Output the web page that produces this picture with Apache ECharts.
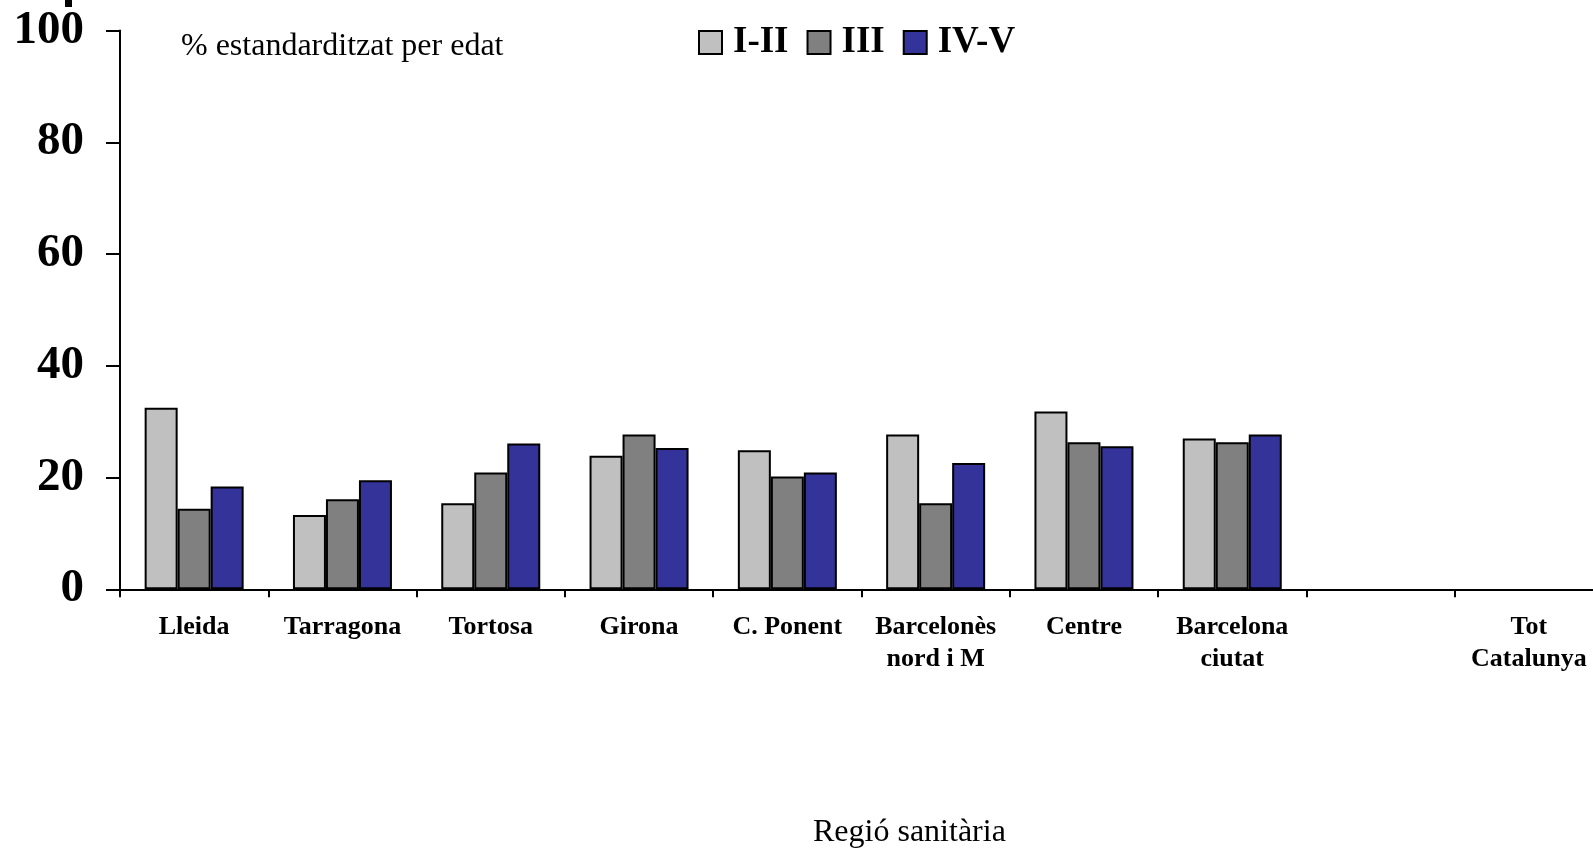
<!DOCTYPE html>
<html>
<head>
<meta charset="utf-8">
<style>
  html, body { margin: 0; padding: 0; background: #fff; }
  #chart { width: 1593px; height: 848px; }
</style>
<script src="https://cdn.jsdelivr.net/npm/echarts@6/dist/echarts.min.js"></script>
</head>
<body>
<div id="chart"></div>
<script>
// Health regions of Catalonia (the last two slots carry no bars)
const regions = ['Lleida', 'Tarragona', 'Tortosa', 'Girona', 'C. Ponent',
  'Barcelonès\nnord i M', 'Centre', 'Barcelona\nciutat', '', 'Tot\nCatalunya'];

// Age-standardised percentage by social class group
const classI_II = [32.5, 13.3, 15.4, 23.9, 24.9, 27.7, 31.8, 27.0, null, null];
const classIII  = [14.4, 16.1, 20.9, 27.7, 20.2, 15.4, 26.3, 26.3, null, null];
const classIV_V = [18.4, 19.5, 26.1, 25.3, 20.9, 22.6, 25.6, 27.7, null, null];

const seriesNames = ['I-II', 'III', 'IV-V'];
const yTicks = [0, 20, 40, 60, 80, 100];

const serif = "'Liberation Serif', 'Times New Roman', serif";
const colors = ['#C0C0C0', '#808080', '#333399'];

const chart = echarts.init(document.getElementById('chart'), null, { renderer: 'canvas' });

function barSeries(name, data, color) {
  return {
    name: name,
    type: 'bar',
    data: data,
    barWidth: 33,
    barGap: '0%',
    itemStyle: { color: color, borderColor: '#000', borderWidth: 2 },
    emphasis: { disabled: true }
  };
}

chart.setOption({
  animation: false,
  backgroundColor: '#fff',
  textStyle: { fontFamily: serif },
  // the plot runs slightly past the right edge of the canvas
  grid: {
    left: 120, width: 1483, top: 30.5, bottom: 258.7,
    containLabel: false, outerBoundsMode: 'none'
  },
  legend: {
    data: seriesNames,
    left: 693,
    top: 19,
    itemWidth: 23,
    itemHeight: 23,
    itemGap: 18,
    icon: 'rect',
    textStyle: {
      fontFamily: serif, fontWeight: 'bold', fontSize: 37, color: '#000',
      padding: [0, 0, 0, 6]
    },
    selectedMode: false
  },
  xAxis: {
    type: 'category',
    data: regions,
    boundaryGap: true,
    axisLine: { show: true, lineStyle: { color: '#000', width: 2 } },
    axisTick: { show: true, interval: 0, length: 8, alignWithLabel: false, lineStyle: { color: '#000', width: 2 } },
    axisLabel: {
      interval: 0,
      margin: 22,
      fontFamily: serif,
      fontWeight: 'bold',
      fontSize: 26,
      lineHeight: 32,
      color: '#000'
    },
    splitLine: { show: false }
  },
  yAxis: {
    type: 'value',
    min: yTicks[0],
    max: yTicks[yTicks.length - 1],
    interval: yTicks[1] - yTicks[0],
    axisLine: { show: true, lineStyle: { color: '#000', width: 2 } },
    axisTick: { show: true, inside: false, length: 14, lineStyle: { color: '#000', width: 2 } },
    axisLabel: {
      margin: 36,
      fontFamily: serif,
      fontWeight: 'bold',
      fontSize: 47,
      color: '#000'
    },
    splitLine: { show: false }
  },
  graphic: [
    {
      type: 'text',
      left: 181,
      top: 31,
      style: { text: '% estandarditzat per edat', font: '32px ' + serif, fill: '#000' }
    },
    {
      type: 'text',
      left: 813,
      top: 817,
      style: { text: 'Regió sanitària', font: '32px ' + serif, fill: '#000' }
    },
    {
      type: 'rect',
      shape: { x: 65, y: 0, width: 7, height: 7 },
      style: { fill: '#000' }
    }
  ],
  series: [
    barSeries(seriesNames[0], classI_II, colors[0]),
    barSeries(seriesNames[1], classIII, colors[1]),
    barSeries(seriesNames[2], classIV_V, colors[2])
  ]
});
</script>
</body>
</html>
